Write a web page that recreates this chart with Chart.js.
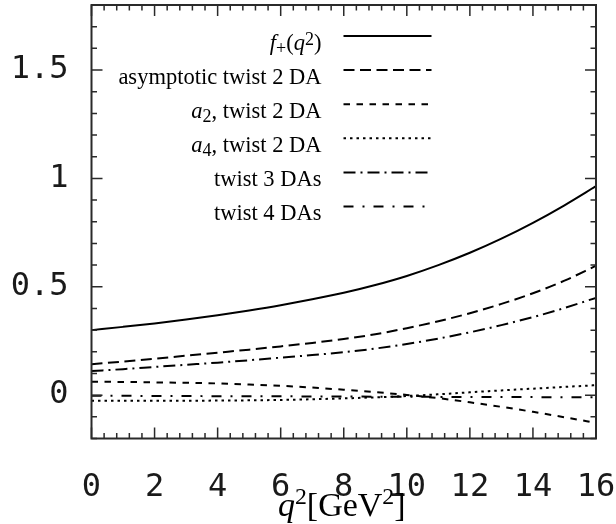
<!DOCTYPE html>
<html>
<head>
<meta charset="utf-8">
<script src="https://cdn.jsdelivr.net/npm/chart.js@4.4.1/dist/chart.umd.min.js"></script>
<style>
  html, body { margin: 0; padding: 0; background: #fff; }
</style>
</head>
<body>
<canvas id="ffChart" width="616" height="524"></canvas>
<script>
// q^2 grid in GeV^2
const q2 = [0, 1, 2, 3, 4, 5, 6, 7, 8, 9, 10, 11, 12, 13, 14, 15, 16];

// curves
const fPlus    = [0.300, 0.315, 0.331, 0.349, 0.369, 0.391, 0.415, 0.442, 0.472, 0.508, 0.550, 0.600, 0.657, 0.722, 0.795, 0.876, 0.964];
const asympT2  = [0.143, 0.155, 0.168, 0.182, 0.196, 0.210, 0.225, 0.241, 0.259, 0.281, 0.309, 0.341, 0.378, 0.421, 0.470, 0.528, 0.597];
const a2T2     = [0.062, 0.061, 0.059, 0.057, 0.054, 0.049, 0.043, 0.035, 0.025, 0.014, 0.001, -0.014, -0.033, -0.054, -0.077, -0.102, -0.128];
const a4T2     = [-0.026, -0.026, -0.026, -0.026, -0.025, -0.024, -0.022, -0.019, -0.015, -0.010, -0.004, 0.004, 0.013, 0.022, 0.030, 0.038, 0.046];
const twist3   = [0.111, 0.120, 0.130, 0.140, 0.150, 0.161, 0.173, 0.185, 0.198, 0.215, 0.236, 0.261, 0.290, 0.323, 0.360, 0.402, 0.449];
const twist4   = [-0.003, -0.003, -0.004, -0.004, -0.005, -0.005, -0.005, -0.006, -0.006, -0.007, -0.007, -0.008, -0.008, -0.009, -0.009, -0.010, -0.010];

const xTickLabels = [0, 2, 4, 6, 8, 10, 12, 14, 16];
const yTickLabels = [0, 0.5, 1, 1.5];
const xMinorStep = 0.4;
const yMinorStep = 0.1;

// legend labels as rich-text pieces (i = italic, s = sub/sup)
const legendLabels = [
  [{t: 'f', i: true}, {t: '+', s: 'sub'}, {t: '('}, {t: 'q', i: true}, {t: '2', s: 'sup'}, {t: ')'}],
  [{t: 'asymptotic twist 2 DA'}],
  [{t: 'a', i: true}, {t: '2', s: 'sub'}, {t: ', twist 2 DA'}],
  [{t: 'a', i: true}, {t: '4', s: 'sub'}, {t: ', twist 2 DA'}],
  [{t: 'twist 3 DAs'}],
  [{t: 'twist 4 DAs'}]
];
const xTitle = [{t: 'q', i: true}, {t: '2', s: 'sup'}, {t: '[GeV'}, {t: '2', s: 'sup'}, {t: ']'}];

const SERIF = '"Liberation Serif", "Times New Roman", serif';
const MONO = '"DejaVu Sans Mono", monospace';

function toPoints(ys) {
  return q2.map((x, i) => ({x: x, y: ys[i]}));
}

function drawRich(ctx, parts, x, baseline, size, align, small, rise) {
  const fontFor = p => (p.i ? 'italic ' : '') + (p.s ? size * small : size) + 'px ' + SERIF;
  let w = 0;
  parts.forEach(p => { ctx.font = fontFor(p); w += ctx.measureText(p.t).width; });
  let cx = align === 'right' ? x - w : align === 'center' ? x - w / 2 : x;
  ctx.textAlign = 'left';
  ctx.textBaseline = 'alphabetic';
  parts.forEach(p => {
    ctx.font = fontFor(p);
    const dy = p.s === 'sub' ? size * 0.2 : p.s === 'sup' ? -size * rise : 0;
    ctx.fillText(p.t, cx, baseline + dy);
    cx += ctx.measureText(p.t).width;
  });
}

const frameTicks = {
  id: 'frameTicks',
  afterDatasetsDraw(chart) {
    const {ctx, chartArea: a, scales: {x, y}} = chart;
    ctx.save();
    ctx.strokeStyle = '#2a2a2a';
    ctx.lineWidth = 1.5;
    ctx.beginPath();
    const n = Math.round((x.max - x.min) / xMinorStep);
    for (let i = 0; i <= n; i++) {
      const v = x.min + i * xMinorStep;
      const px = x.getPixelForValue(v);
      const len = xTickLabels.some(t => Math.abs(t - v) < 1e-6) ? 11 : 5.5;
      ctx.moveTo(px, a.bottom); ctx.lineTo(px, a.bottom - len);
      ctx.moveTo(px, a.top); ctx.lineTo(px, a.top + len);
    }
    const m = Math.round((y.max - y.min) / yMinorStep);
    for (let i = 0; i <= m; i++) {
      const v = y.min + i * yMinorStep;
      const py = y.getPixelForValue(v);
      const len = yTickLabels.some(t => Math.abs(t - v) < 1e-6) ? 11 : 5.5;
      ctx.moveTo(a.left, py); ctx.lineTo(a.left + len, py);
      ctx.moveTo(a.right, py); ctx.lineTo(a.right - len, py);
    }
    ctx.stroke();
    ctx.lineWidth = 2;
    ctx.strokeRect(a.left, a.top, a.right - a.left, a.bottom - a.top);
    ctx.restore();
  }
};

const keyAndTitle = {
  id: 'keyAndTitle',
  afterDraw(chart) {
    const {ctx, chartArea: a} = chart;
    ctx.save();
    ctx.fillStyle = '#000';
    chart.data.datasets.forEach((ds, i) => {
      const ly = a.top + 31 + i * 34.1;
      drawRich(ctx, legendLabels[i], a.left + 230, ly + 13.5, 22.5, 'right', 0.8, 0.22);
      ctx.strokeStyle = ds.borderColor;
      ctx.lineWidth = ds.borderWidth;
      ctx.setLineDash(ds.borderDash || []);
      ctx.beginPath();
      ctx.moveTo(a.left + 252, ly);
      ctx.lineTo(a.left + 340, ly);
      ctx.stroke();
    });
    ctx.setLineDash([]);
    drawRich(ctx, xTitle, (a.left + a.right) / 2 - 2, 516, 34, 'center', 0.7, 0.36);
    ctx.restore();
  }
};

function line(label, ys, dash) {
  return {
    label: label,
    data: toPoints(ys),
    borderColor: '#000',
    borderWidth: 2,
    borderDash: dash,
    pointRadius: 0,
    fill: false,
    cubicInterpolationMode: 'monotone'
  };
}

function noPad(s) {
  s.paddingLeft = 0; s.paddingRight = 0; s.paddingTop = 0; s.paddingBottom = 0;
}

new Chart(document.getElementById('ffChart').getContext('2d'), {
  type: 'line',
  data: {
    datasets: [
      line('f+(q2)', fPlus, []),
      line('asymptotic twist 2 DA', asympT2, [11, 5.5]),
      line('a2, twist 2 DA', a2T2, [6.5, 6.5]),
      line('a4, twist 2 DA', a4T2, [2.5, 4]),
      line('twist 3 DAs', twist3, [12, 5, 2, 5]),
      line('twist 4 DAs', twist4, [10, 9, 2, 9])
    ]
  },
  options: {
    responsive: false,
    animation: false,
    devicePixelRatio: 1,
    layout: { padding: { left: 0, right: 20, top: 5, bottom: 0 } },
    plugins: {
      legend: { display: false },
      tooltip: { enabled: false }
    },
    scales: {
      x: {
        type: 'linear',
        min: 0,
        max: 16,
        grid: { display: false },
        border: { display: false },
        afterBuildTicks: s => { s.ticks = xTickLabels.map(v => ({value: v})); },
        afterFit: s => { s.height = 85.5; noPad(s); },
        ticks: {
          padding: 22,
          maxRotation: 0,
          autoSkip: false,
          color: '#1a1a1a',
          font: { family: MONO, size: 32 },
          callback: v => String(v)
        }
      },
      y: {
        type: 'linear',
        min: -0.2,
        max: 1.8,
        grid: { display: false },
        border: { display: false },
        afterBuildTicks: s => { s.ticks = yTickLabels.map(v => ({value: v})); },
        afterFit: s => { s.width = 91.5; noPad(s); },
        ticks: {
          padding: 15,
          autoSkip: false,
          color: '#1a1a1a',
          font: { family: MONO, size: 32 },
          callback: v => String(v)
        }
      }
    }
  },
  plugins: [frameTicks, keyAndTitle]
});
</script>
</body>
</html>
